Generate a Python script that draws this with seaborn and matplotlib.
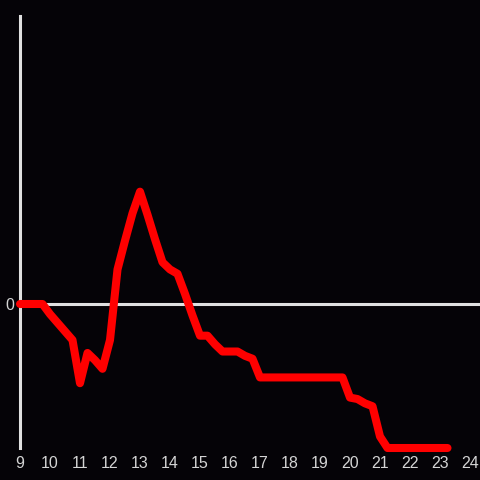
import numpy as np
import pandas as pd
import matplotlib
matplotlib.use('Agg')
import matplotlib.pyplot as plt
import seaborn as sns

# hours (15 min steps) and values
hours = [9.0, 9.25, 9.5, 9.75, 10.0, 10.25, 10.5, 10.75, 11.0, 11.25, 11.5, 11.75,
         12.0, 12.25, 12.5, 12.75, 13.0, 13.25, 13.5, 13.75, 14.0, 14.25, 14.5, 14.75,
         15.0, 15.25, 15.5, 15.75, 16.0, 16.25, 16.5, 16.75, 17.0, 17.25, 17.5, 17.75,
         18.0, 18.25, 18.5, 18.75, 19.0, 19.25, 19.5, 19.75, 20.0, 20.25, 20.5, 20.75,
         21.0, 21.25, 21.5, 21.75, 22.0, 22.25, 22.5, 22.75, 23.0, 23.25]
values = [0, 0, 0, 0, -0.7, -1.3, -1.9, -2.5, -5.5, -3.4, -3.9, -4.5,
          -2.5, 2.4, 4.4, 6.3, 7.8, 6.2, 4.5, 2.9, 2.4, 2.1, 0.7, -0.8,
          -2.2, -2.2, -2.8, -3.3, -3.3, -3.3, -3.6, -3.8, -5.1, -5.1, -5.1, -5.1,
          -5.1, -5.1, -5.1, -5.1, -5.1, -5.1, -5.1, -5.1, -6.5, -6.6, -6.9, -7.1,
          -9.2, -10, -10, -10, -10, -10, -10, -10, -10, -10]
xticks = list(range(9, 25))
yticks = [0]

df = pd.DataFrame({"hour": hours, "value": values})

bg = "#050307"
fg = "#e0e0e0"

sns.set_style("dark")
plt.rcParams['font.family'] = ['Liberation Sans', 'DejaVu Sans']

fig = plt.figure(figsize=(4.8, 4.8), dpi=100, facecolor=bg)
ax = fig.add_axes([20 / 480, 32 / 480, 460 / 480, 432 / 480])
ax.set_facecolor(bg)

ax.axhline(0, color=fg, lw=2.2, zorder=1)
sns.lineplot(data=df, x="hour", y="value", color="#ff0000", lw=5.8, ax=ax,
             zorder=5, clip_on=False)

ax.set_xlim(9, 24.333)
ax.set_ylim(-10, 20)
ax.set_xticks(xticks)
ax.set_yticks(yticks)
ax.tick_params(colors="#d4d4d4", labelsize=11.5, length=0)
ax.tick_params(axis='x', pad=6)
ax.tick_params(axis='y', pad=4)
ax.set_xlabel("")
ax.set_ylabel("")
ax.grid(False)
for s in ["top", "right", "bottom"]:
    ax.spines[s].set_visible(False)
ax.spines["left"].set_color(fg)
ax.spines["left"].set_linewidth(2.2)
ax.spines["left"].set_zorder(2)

fig.savefig("out.png", dpi=100, facecolor=bg)
